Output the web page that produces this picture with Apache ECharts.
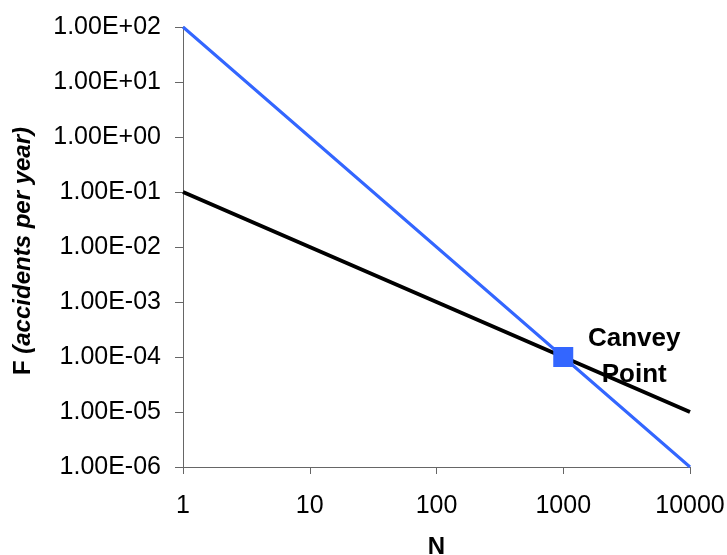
<!DOCTYPE html>
<html>
<head>
<meta charset="utf-8">
<script src="https://cdn.jsdelivr.net/npm/echarts@6/dist/echarts.min.js"></script>
<style>
  html, body { margin: 0; padding: 0; background: #fff; }
  #chart { width: 727px; height: 555px; }
</style>
</head>
<body>
<div id="chart"></div>
<script>
// Number of fatalities N (decades)
const nValues = [1, 10, 100, 1000, 10000];
// Frequency criterion lines, F in accidents per year
const steepLine = [100, 1, 0.01, 0.0001, 0.000001];
const shallowLine = [0.1, 0.01, 0.001, 0.0001, 0.00001];
// Intersection of the two criteria
const canveyPoint = [1000, 0.0001];
const canveyLabel = 'Canvey\nPoint';

const FONT = '"Liberation Sans", Arial, sans-serif';

function expLabel(v) {
  const s = Number(v).toExponential(2).toUpperCase();
  const m = s.match(/^([\d.]+)E([+-])(\d+)$/);
  if (!m) return s;
  return m[1] + 'E' + m[2] + (m[3].length < 2 ? '0' + m[3] : m[3]);
}

const chart = echarts.init(document.getElementById('chart'), null, { renderer: 'canvas' });
chart.setOption({
  animation: false,
  backgroundColor: '#ffffff',
  grid: { left: 183, right: 37, top: 27, bottom: 88, containLabel: false, outerBoundsMode: 'none' },
  xAxis: {
    type: 'log', logBase: 10, min: 1, max: 10000,
    name: 'N', nameLocation: 'middle', nameGap: 68,
    nameTextStyle: { fontFamily: FONT, fontSize: 24, fontWeight: 'bold', color: '#000' },
    axisLine: { show: true, lineStyle: { color: '#666', width: 1 } },
    axisTick: { show: true, inside: false, length: 7, lineStyle: { color: '#666' } },
    minorTick: { show: false },
    splitLine: { show: false },
    axisLabel: {
      margin: 27, fontFamily: FONT, fontSize: 25, color: '#000',
      formatter: v => String(Math.round(v))
    }
  },
  yAxis: {
    type: 'log', logBase: 10, min: 0.000001, max: 100,
    name: '{b|F }{bi|(accidents per year)}', nameLocation: 'middle', nameGap: 148,
    nameTextStyle: {
      padding: [0, 8, 0, 0],
      rich: {
        b: { fontFamily: FONT, fontSize: 24, fontWeight: 'bold', color: '#000' },
        bi: { fontFamily: FONT, fontSize: 24, fontWeight: 'bold', fontStyle: 'italic', color: '#000' }
      }
    },
    axisLine: { show: true, lineStyle: { color: '#666', width: 1 } },
    axisTick: { show: true, inside: false, length: 8, lineStyle: { color: '#666' } },
    splitLine: { show: false },
    axisLabel: {
      margin: 22, fontFamily: FONT, fontSize: 25, color: '#000',
      formatter: v => expLabel(v)
    }
  },
  series: [
    {
      type: 'line', name: 'shallow',
      data: nValues.map((n, i) => [n, shallowLine[i]]),
      showSymbol: false, symbol: 'none',
      lineStyle: { color: '#000000', width: 4 },
      z: 2
    },
    {
      type: 'line', name: 'steep',
      data: nValues.map((n, i) => [n, steepLine[i]]),
      showSymbol: false, symbol: 'none',
      lineStyle: { color: '#3366ff', width: 3 },
      z: 3
    },
    {
      type: 'scatter', name: 'Canvey Point',
      data: [canveyPoint],
      symbol: 'rect', symbolSize: 20,
      itemStyle: { color: '#3366ff', opacity: 1 },
      label: {
        show: true, formatter: canveyLabel,
        position: [81, 10], align: 'center', verticalAlign: 'middle',
        fontFamily: FONT, fontSize: 26, fontWeight: 'bold', color: '#000', opacity: 1, lineHeight: 36
      },
      z: 4
    }
  ]
});
</script>
</body>
</html>
